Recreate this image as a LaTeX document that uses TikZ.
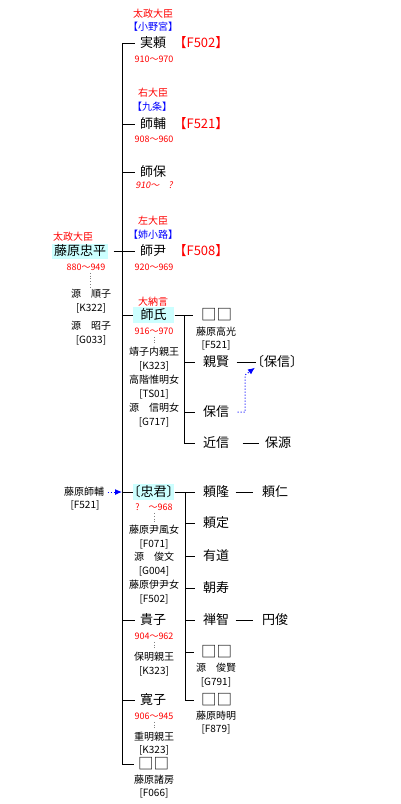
\documentclass[tikz,border=0pt]{standalone}
\usepackage{fontspec}
\setmainfont{Noto Sans CJK JP}
\newfontfamily\bk{Noto Sans CJK JP}[RawFeature=+halt]
\newfontfamily\slfont{Noto Sans CJK JP}[FakeSlant=0.2]
\usetikzlibrary{arrows.meta}
\definecolor{hlc}{HTML}{CCFFFF}
\definecolor{rd}{HTML}{FF0000}
\definecolor{bl}{HTML}{0000FF}
\begin{document}
\begin{tikzpicture}[x=1pt,y=-1pt,line width=1pt,
 pn/.style={font=\fontsize{13}{13}\selectfont, inner sep=0pt},
 sqn/.style={font=\fontsize{15.5}{15.5}\selectfont, inner sep=0pt},
 st/.style={font=\fontsize{10}{10}\selectfont, inner sep=0pt},
 dt/.style={font=\fontsize{9}{9}\selectfont, text=rd, inner sep=0pt},
 rk/.style={font=\fontsize{10}{10}\selectfont, text=rd, inner sep=0pt},
 hs/.style={font=\bk\fontsize{10}{10}\selectfont, text=bl, inner sep=0pt},
 fd/.style={font=\bk\fontsize{13}{13}\selectfont, text=rd, inner sep=0pt},
 hlbox/.style={pn, fill=hlc, minimum width=41pt, minimum height=16pt},
 wedline/.style={gray, dotted, line width=0.8pt, shorten >=2pt, shorten <=2pt},
 refarrow/.style={bl, dotted, line width=1pt, -{Latex[length=7pt,width=6pt]}}
]
\fill[white] (0,0) rectangle (400,804);
\useasboundingbox (0,0) rectangle (400,804);

% root
\node[hlbox, minimum width=56pt, minimum height=15pt] (chuhei) at (80,251) {藤原忠平};
\node[rk] (chuheiR) at (73,237) {太政大臣};
\node[dt] (chuheiD) at (86,267) {880〜949};
\node[st] (chuheiW1) at (91,294) {源　順子};
\node[st] (chuheiW1c) at (91,308) {[K322]};
\node[st] (chuheiW2) at (91,326) {源　昭子};
\node[st] (chuheiW2c) at (91,340) {[G033]};
\draw[wedline] ([xshift=4pt]chuheiD.south) -- ([xshift=-1pt]chuheiW1.north);

% trunk
\coordinate (T1) at (122,43);
\coordinate (T2) at (122,124);
\coordinate (T3) at (122,172);
\coordinate (T4) at (122,251);
\coordinate (T5) at (122,315);
\coordinate (T6) at (122,492);
\coordinate (T7) at (122,620);
\coordinate (T8) at (122,700);
\coordinate (T9) at (122,764);
\draw (T1) -- (T9);
\draw ([xshift=5pt]chuhei.east) -- (T4);

% 1 実頼
\node[rk] (saneR) at (153,14) {太政大臣};
\node[hs] (saneH) at (153,27) {【小野宮】};
\node[pn] (sane) at (153,43) {実頼};
\node[fd] (saneF) at (201,43) {【F502】};
\node[dt] (saneD) at (154,59) {910〜970};
\draw (T1) -- ([xshift=-5pt]sane.west);

% 2 師輔
\node[rk] (moroR) at (153,93) {右大臣};
\node[hs] (moroH) at (152,107) {【九条】};
\node[pn] (moro) at (153,124) {師輔};
\node[fd] (moroF) at (201,124) {【F521】};
\node[dt] (moroD) at (154,139) {908〜960};
\draw (T2) -- ([xshift=-5pt]moro.west);

% 3 師保
\node[pn] (moroyasu) at (153,172) {師保};
\node[dt, font=\slfont\fontsize{9}{9}\selectfont] (moroyasuD) at (154,185) {910〜　?};
\draw (T3) -- ([xshift=-5pt]moroyasu.west);

% 4 師尹
\node[rk] (moromaR) at (153,221) {左大臣};
\node[hs] (moromaH) at (153,235) {【姉小路】};
\node[pn] (moroma) at (153,251) {師尹};
\node[fd] (moromaF) at (201,251) {【F508】};
\node[dt] (moromaD) at (154,267) {920〜969};
\draw (T4) -- ([xshift=-5pt]moroma.west);

% 5 師氏
\node[rk] (morouR) at (153,302) {大納言};
\node[hlbox] (morou) at (153.5,315) {師氏};
\node[dt] (morouD) at (154,331) {916〜970};
\node[st] (morouW1) at (154,352) {靖子内親王};
\node[st] (morouW1c) at (154,366) {[K323]};
\node[st] (morouW2) at (154,380) {高階惟明女};
\node[st] (morouW2c) at (154,394) {[TS01]};
\node[st] (morouW3) at (154,408) {源　信明女};
\node[st] (morouW3c) at (154,422) {[G717]};
\draw (T5) -- (morou.west);
\draw[wedline] (morouD.south) -- (morouW1.north);

% 師氏 children
\node[sqn] (sq1) at (216.5,315) {□□};
\node[st] (sq1n) at (216,332) {藤原高光};
\node[st] (sq1c) at (216,345) {[F521]};
\node[pn] (chikaka) at (216,362) {親賢};
\node[pn, font=\bk\fontsize{13}{13}\selectfont] (yasu2) at (277,362) {〔保信〕};
\node[pn] (yasu) at (216,412) {保信};
\node[pn] (chikanobu) at (216,443) {近信};
\node[pn] (yasumoto) at (278,443) {保源};
\coordinate (U0) at (184,315);
\coordinate (U1) at (184,362);
\coordinate (U2) at (184,412);
\coordinate (U3) at (184,443);
\draw (morou.east) -- ([xshift=-8pt]sq1.west);
\draw (U0) -- (U3);
\draw (U1) -- ([xshift=-8pt]chikaka.west);
\draw (U2) -- ([xshift=-8pt]yasu.west);
\draw (U3) -- ([xshift=-8pt]chikanobu.west);
\draw ([xshift=7pt]chikaka.east) -- ([xshift=-1pt]yasu2.west);
\draw ([xshift=13pt]chikanobu.east) -- ([xshift=-6pt]yasumoto.west);
\coordinate (AB) at (245,375);
\draw[refarrow] ([xshift=8pt]yasu.east) -| (AB) -- ([xshift=-2pt,yshift=1pt]yasu2.south west);

% 6 忠君
\node[st] (morosuke) at (84,492) {藤原師輔};
\node[st] (morosukec) at (85,505) {[F521]};
\draw[refarrow] ([xshift=3pt]morosuke.east) -- (T6);
\node[hlbox, font=\bk\fontsize{13}{13}\selectfont] (tadakimi) at (153.5,492) {〔忠君〕};
\node[dt] (tadakimiD) at (154,507) {?　〜968};
\node[st] (tkW1) at (154,530) {藤原尹風女};
\node[st] (tkW1c) at (154,544) {[F071]};
\node[st] (tkW2) at (154,557) {源　俊文};
\node[st] (tkW2c) at (154,571) {[G004]};
\node[st] (tkW3) at (154,585) {藤原伊尹女};
\node[st] (tkW3c) at (154,599) {[F502]};
\draw (T6) -- (tadakimi.west);
\draw[wedline] (tadakimiD.south) -- (tkW1.north);

% 忠君 children
\node[pn] (yoritaka) at (216,492) {頼隆};
\node[pn] (yorihito) at (275,492) {頼仁};
\node[pn] (yorisada) at (216,523) {頼定};
\node[pn] (arimichi) at (216,556) {有道};
\node[pn] (tomohisa) at (216,588) {朝寿};
\node[pn] (zenchi) at (216,620) {禅智};
\node[pn] (enshun) at (275,620) {円俊};
\node[sqn] (sq2) at (216.5,652) {□□};
\node[st] (sq2n) at (216,668) {源　俊賢};
\node[st] (sq2c) at (216,682) {[G791]};
\node[sqn] (sq3) at (216.5,700) {□□};
\node[st] (sq3n) at (216,716) {藤原時明};
\node[st] (sq3c) at (216,729) {[F879]};
\coordinate (V0) at (185,492);
\coordinate (V1) at (185,523);
\coordinate (V2) at (185,556);
\coordinate (V3) at (185,588);
\coordinate (V4) at (185,620);
\coordinate (V5) at (185,652);
\coordinate (V6) at (185,700);
\draw (tadakimi.east) -- ([xshift=-8pt]yoritaka.west);
\draw (V0) -- (V6);
\draw (V1) -- ([xshift=-8pt]yorisada.west);
\draw (V2) -- ([xshift=-8pt]arimichi.west);
\draw (V3) -- ([xshift=-8pt]tomohisa.west);
\draw (V4) -- ([xshift=-8pt]zenchi.west);
\draw (V5) -- ([xshift=-7pt]sq2.west);
\draw (V6) -- ([xshift=-7pt]sq3.west);
\draw ([xshift=6pt]yoritaka.east) -- ([xshift=-9pt]yorihito.west);
\draw ([xshift=6pt]zenchi.east) -- ([xshift=-9pt]enshun.west);

% 7 貴子
\node[pn] (takako) at (153,620) {貴子};
\node[dt] (takakoD) at (154,636) {904〜962};
\node[st] (takakoW) at (154,657) {保明親王};
\node[st] (takakoWc) at (154,671) {[K323]};
\draw (T7) -- ([xshift=-5pt]takako.west);
\draw[wedline] (takakoD.south) -- (takakoW.north);

% 8 寛子
\node[pn] (hiroko) at (153,700) {寛子};
\node[dt] (hirokoD) at (154,716) {906〜945};
\node[st] (hirokoW) at (154,737) {重明親王};
\node[st] (hirokoWc) at (154,750) {[K323]};
\draw (T8) -- ([xshift=-5pt]hiroko.west);
\draw[wedline] (hirokoD.south) -- (hirokoW.north);

% 9 □□
\node[sqn] (sq4) at (153.5,764) {□□};
\node[st] (sq4n) at (154,780) {藤原諸房};
\node[st] (sq4c) at (154,793) {[F066]};
\draw (T9) -- ([xshift=-4pt]sq4.west);
\end{tikzpicture}
\end{document}
